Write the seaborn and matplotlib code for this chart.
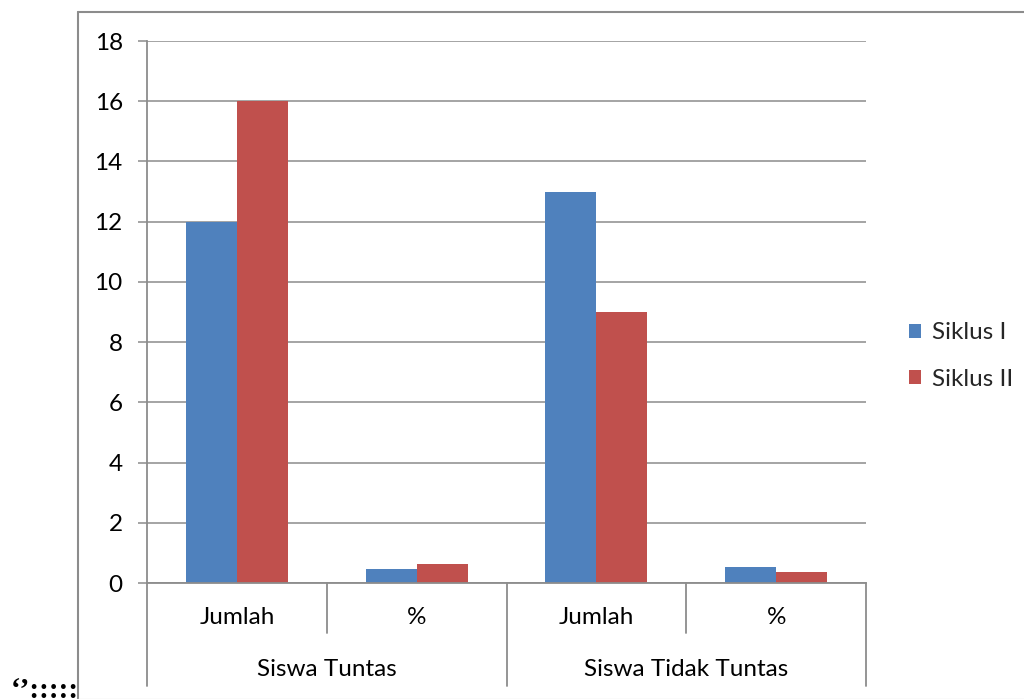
import matplotlib
matplotlib.use("Agg")
import matplotlib.pyplot as plt
from matplotlib.lines import Line2D
from matplotlib.patches import Patch
import seaborn as sns
import pandas as pd

# Chart data
groups = ["Siswa Tuntas", "Siswa Tuntas", "Siswa Tidak Tuntas", "Siswa Tidak Tuntas"]
measures = ["Jumlah", "%", "Jumlah", "%"]
siklus_1 = [12, 0.48, 13, 0.52]
siklus_2 = [16, 0.64, 9, 0.36]
series_names = ["Siklus I", "Siklus II"]
y_ticks = [0, 2, 4, 6, 8, 10, 12, 14, 16, 18]

colors = ["#4F81BD", "#C0504D"]
grey = "#8C8C8C"
font = "Lato"
fs = 17.5

keys = [f"{g}|{m}" for g, m in zip(groups, measures)]
df = pd.DataFrame({
    "key": keys * 2,
    "value": siklus_1 + siklus_2,
    "series": [series_names[0]] * 4 + [series_names[1]] * 4,
})

sns.set_theme(style="white")
plt.rcParams["font.family"] = [font, "DejaVu Sans"]

fig = plt.figure(figsize=(10.24, 6.99), dpi=100)
ax = fig.add_axes([147 / 1024, 1 - 583 / 699, (866 - 147) / 1024, (583 - 41) / 699])

sns.barplot(data=df, x="key", y="value", hue="series", order=keys,
            hue_order=series_names, palette=colors, width=0.567,
            saturation=1, errorbar=None, ax=ax, legend=False,
            edgecolor="none", linewidth=0)

ax.set_xlim(-0.5, 3.5)
ax.set_ylim(0, 18)
ax.set_yticks(y_ticks)
ax.set_yticklabels([str(t) for t in y_ticks], fontsize=fs, color="#000000")
ax.yaxis.grid(True, color=grey, linewidth=1.1)
ax.set_axisbelow(True)
ax.set_xlabel("")
ax.set_ylabel("")
ax.set_xticks([])

for side in ["top", "right"]:
    ax.spines[side].set_visible(False)
for side in ["left", "bottom"]:
    ax.spines[side].set_color(grey)
    ax.spines[side].set_linewidth(1.3)
ax.tick_params(axis="y", which="major", left=True, length=6.5, width=1.1,
               color=grey, pad=11)

# Two-level category axis
trans = ax.get_xaxis_transform()
h_ax = (583 - 41)
inner_drop = -(633 - 583) / h_ax
outer_drop = -(686 - 583) / h_ax
for x, long in zip([-0.5, 0.5, 1.5, 2.5, 3.5], [True, False, True, False, True]):
    ax.add_line(Line2D([x, x], [0, outer_drop if long else inner_drop],
                       transform=trans, color=grey, linewidth=1.3, clip_on=False))
for i, m in enumerate(measures):
    ax.text(i, -(617 - 583) / h_ax, m, transform=trans, ha="center", va="center",
            fontsize=fs, color="#000000")
for center, g in [(0.5, groups[0]), (2.5, groups[2])]:
    ax.text(center, -(669 - 583) / h_ax, g, transform=trans, ha="center",
            va="center", fontsize=fs, color="#000000")

# Legend
handles = [Patch(facecolor=c, edgecolor="none") for c in colors]
fig.legend(handles, series_names, loc="center left",
           bbox_to_anchor=(909 / 1024, 1 - 356 / 699), frameon=False,
           fontsize=fs, handlelength=0.5, handleheight=0.5,
           handletextpad=0.45, labelspacing=1.05, borderpad=0,
           borderaxespad=0)

# Outer chart frame
fig.add_artist(Line2D([78 / 1024, 1.0], [1 - 12 / 699, 1 - 12 / 699],
                      transform=fig.transFigure, color=grey, linewidth=1.5))
fig.add_artist(Line2D([78 / 1024, 78 / 1024], [1 - 12 / 699, 0.0],
                      transform=fig.transFigure, color=grey, linewidth=1.5))
fig.add_artist(Line2D([78 / 1024, 1.0], [0.5 / 699, 0.5 / 699],
                      transform=fig.transFigure, color="#E6E6E6", linewidth=1))

# Stray text fragment at lower left of the page
fig.text(11 / 1024, 1.2 / 699, "\u2018\u2019:::::", ha="left", va="baseline",
         fontsize=21, fontweight="bold", family="Liberation Serif",
         color="#000000")

fig.savefig("out.png", dpi=100, facecolor="white")
